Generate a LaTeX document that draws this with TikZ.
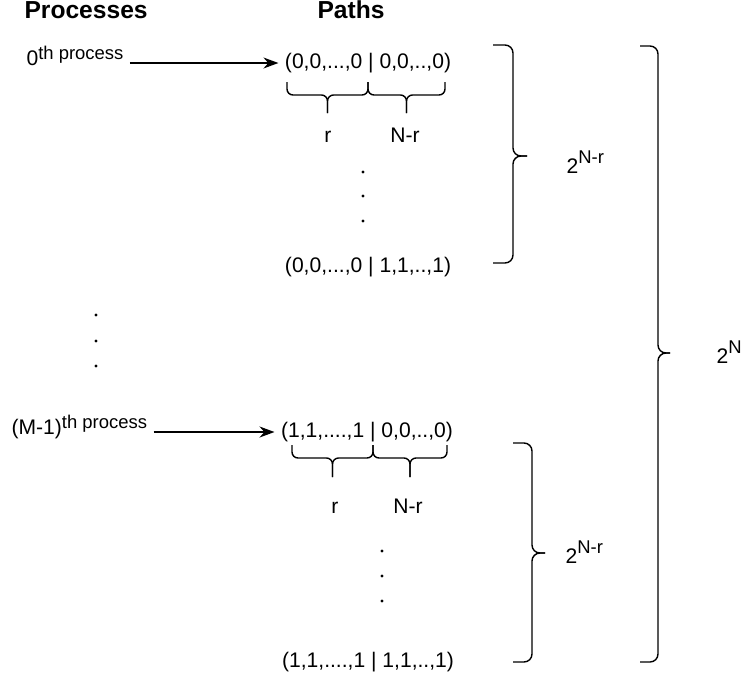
\documentclass[tikz,border=0pt]{standalone}
\usepackage{fontspec}
\setmainfont{Liberation Sans}
\usepackage{tikz}
\usetikzlibrary{positioning}
\usetikzlibrary{arrows.meta}
\usetikzlibrary{calc}

\newcommand{\supr}[2][3pt]{\raisebox{#1}{\fontsize{10.5}{12}\selectfont #2}}

\begin{document}
\begin{tikzpicture}[x=0.02cm,y=-0.02cm,font=\fontsize{12}{14}\selectfont,line width=0.8pt,
  vbrc/.style={rounded corners=0.16cm},
  hbrc/.style={rounded corners=0.12cm},
  head/.style={font=\fontsize{14}{16}\selectfont\bfseries},
  arr/.style={-{Stealth[length=3mm,width=2.2mm]}}]
  \useasboundingbox (0,0) rectangle (744,681);

  \node[head,anchor=base west] (hproc) at (18,18) {Processes};
  \node[head,anchor=base] (hpath) at (351,18) {Paths};

	% first process
  \node[anchor=base west] (p0) at (20,65) {0\supr{th process}};
  \node (t1) at (368,63) {(0,0,...,0 | 0,0,..,0)};
  \draw[arr] (p0.east |- t1.west) -- (t1.west);
  \draw[hbrc] (287,82) |- (327.5,95) -- (327.5,113);
  \draw[hbrc] (368,82) |- (327.5,95) -- (327.5,113);
  \draw[hbrc] (368,82) |- (406.5,95) -- (406.5,113);
  \draw[hbrc] (445,82) |- (406.5,95) -- (406.5,113);
  \node[anchor=base] (r1) at (328,142) {r};
  \node[anchor=base] (nr1) at (405,142) {N-r};
  \foreach \y in {172,196,221}
    \fill (363,\y) circle (0.9pt);
  \node (t2) at (368,267) {(0,0,...,0 | 1,1,..,1)};
  \draw[vbrc] (493,45) -| (513,156) -- (527,156);
  \draw[vbrc] (493,263) -| (513,156) -- (527,156);
  \node[anchor=base west] (n1) at (560,173) {2\supr[5.5pt]{N-r}};

	% processes in between
  \foreach \y in {315,341,366}
    \fill (96,\y) circle (0.9pt);

	% last process
  \node[anchor=base west] (pm) at (5,434) {(M-1)\supr{th process}};
  \node (t3) at (367,432) {(1,1,....,1 | 0,0,..,0)};
  \draw[arr] (pm.east |- t3.west) -- (t3.west);
  \draw[hbrc] (292,445) |- (332.5,458) -- (332.5,477);
  \draw[hbrc] (373,445) |- (332.5,458) -- (332.5,477);
  \draw[hbrc] (373,445) |- (410,458) -- (410,477);
  \draw[hbrc] (447,445) |- (410,458) -- (410,477);
  \node[anchor=base] (r3) at (335,513) {r};
  \node[anchor=base] (nr3) at (408,513) {N-r};
  \foreach \y in {551,576,601}
    \fill (382,\y) circle (0.9pt);
  \node (t4) at (368,662) {(1,1,....,1 | 1,1,..,1)};
  \draw[vbrc] (513,443) -| (532,553) -- (545,553);
  \draw[vbrc] (513,662) -| (532,553) -- (545,553);
  \node[anchor=base west] (n2) at (559,563) {2\supr[5.5pt]{N-r}};

	% all paths
  \draw[vbrc] (640,46) -| (658,353) -- (670,353);
  \draw[vbrc] (640,662) -| (658,353) -- (670,353);
  \node[anchor=base west] (nall) at (710,363) {2\supr[5.5pt]{N}};
\end{tikzpicture}
\end{document}
